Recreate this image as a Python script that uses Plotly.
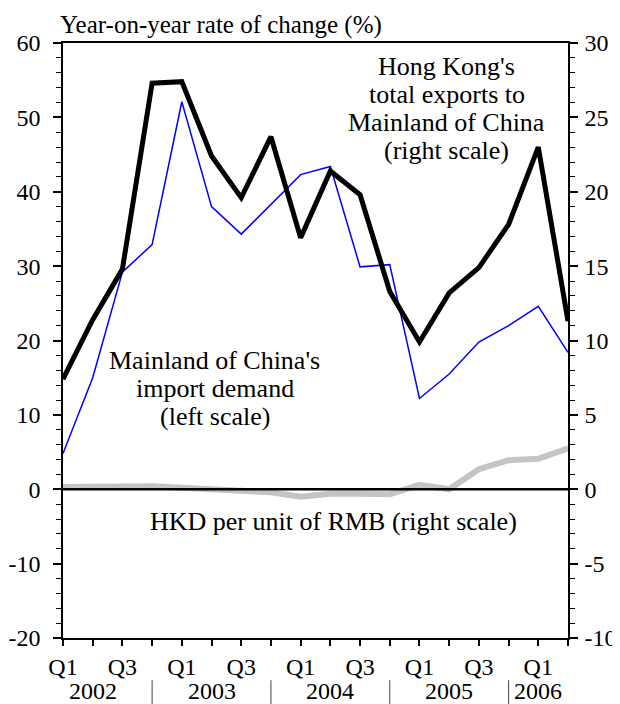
import plotly.graph_objects as go

# ---- data ----
quarters = ["2002Q1", "2002Q2", "2002Q3", "2002Q4",
            "2003Q1", "2003Q2", "2003Q3", "2003Q4",
            "2004Q1", "2004Q2", "2004Q3", "2004Q4",
            "2005Q1", "2005Q2", "2005Q3", "2005Q4",
            "2006Q1", "2006Q2"]
quarter_ticks = ["Q1", "", "Q3", "",
                 "Q1", "", "Q3", "",
                 "Q1", "", "Q3", "",
                 "Q1", "", "Q3", "",
                 "Q1", ""]
import_demand = [4.8, 15.0, 29.2, 32.9, 52.1, 38.0, 34.3, 38.3, 42.3, 43.4,
                 29.9, 30.2, 12.2, 15.5, 19.8, 22.0, 24.6, 18.4]          # left scale
hk_exports = [7.4, 11.4, 14.8, 27.3, 27.4, 22.4, 19.6, 23.7, 16.9, 21.4,
              19.8, 13.3, 9.9, 13.2, 14.9, 17.8, 23.0, 11.3]              # right scale
hkd_per_rmb = [0.15, 0.2, 0.2, 0.2, 0.1, 0.0, 0.0, -0.2, -0.5, -0.3,
               -0.3, -0.33, 0.3, 0.0, 1.35, 1.95, 2.05, 2.75]             # right scale
years = ["2002", "2003", "2004", "2005", "2006"]
year_label_quarter = ["2002Q2", "2003Q2", "2004Q2", "2005Q2", "2006Q1"]
year_separators = ["2002Q4", "2003Q4", "2004Q4", "2005Q4"]
left_ticks = [-20, -10, 0, 10, 20, 30, 40, 50, 60]
left_tick_labels = ["-20", "-10", "0", "10", "20", "30", "40", "50", "60"]
right_ticks = [-10, -5, 0, 5, 10, 15, 20, 25, 30]
right_tick_labels = ["-10", "-5", "0", "5", "10", "15", "20", "25", "30"]

FONT = "Liberation Serif"
TICK_SIZE = 24
ANN_SIZE = 26
xidx = list(range(len(quarters)))
pos = {q: i for i, q in enumerate(quarters)}

fig = go.Figure()
fig.add_trace(go.Scatter(x=xidx, y=hkd_per_rmb, yaxis="y2", mode="lines",
                         line=dict(color="#c4c4c4", width=6), hoverinfo="skip"))
fig.add_trace(go.Scatter(x=xidx, y=import_demand, yaxis="y", mode="lines",
                         line=dict(color="#0000ff", width=1.5), hoverinfo="skip"))
fig.add_trace(go.Scatter(x=xidx, y=hk_exports, yaxis="y2", mode="lines",
                         line=dict(color="#000000", width=5), hoverinfo="skip"))

# zero line
fig.add_shape(type="line", xref="paper", yref="y", x0=0, x1=1, y0=0, y1=0,
              line=dict(color="black", width=2.5), layer="above")

# year separators
for s in year_separators:
    fig.add_shape(type="line", xref="x", yref="paper", x0=pos[s], x1=pos[s],
                  y0=-0.071, y1=-0.115, line=dict(color="#444444", width=1))

def txt(x, y, t, size=ANN_SIZE, **kw):
    d = dict(x=x, xref="paper", y=y, yref="paper", text=t, showarrow=False,
             font=dict(family=FONT, size=size, color="black"))
    d.update(kw)
    return d

annotations = []
for y, q in zip(years, year_label_quarter):
    annotations.append(dict(x=pos[q], xref="x", y=0, yref="paper", text=y,
                            showarrow=False, yanchor="middle", yshift=-53,
                            font=dict(family=FONT, size=TICK_SIZE, color="black")))

annotations.append(txt(-0.010, 1.030, "Year-on-year rate of change (%)", size=25,
                       xanchor="left", yanchor="middle"))
hk_lines = ["Hong Kong's", "total exports to", "Mainland of China", "(right scale)"]
for t, yy in zip(hk_lines, [0.960, 0.913, 0.866, 0.820]):
    annotations.append(txt(0.760, yy, t, xanchor="center", yanchor="middle"))
mc_lines = ["Mainland of China's", "import demand", "(left scale)"]
for t, yy in zip(mc_lines, [0.467, 0.420, 0.373]):
    annotations.append(txt(0.300, yy, t, xanchor="center", yanchor="middle"))
annotations.append(txt(0.536, 0.195, "HKD per unit of RMB (right scale)",
                       xanchor="center", yanchor="middle"))

fig.update_layout(
    width=620, height=704,
    margin=dict(l=55, r=60, t=35, b=74, autoexpand=False),
    paper_bgcolor="white", plot_bgcolor="white",
    showlegend=False,
    font=dict(family=FONT, size=TICK_SIZE, color="black"),
    annotations=annotations,
    xaxis=dict(range=[0, len(quarters) - 1], tickvals=xidx, ticktext=quarter_ticks,
               ticks="outside", ticklen=6, tickwidth=1.5, tickcolor="black",
               showline=True, linecolor="black", linewidth=1.5, mirror=True,
               showgrid=False, zeroline=False, automargin=False,
               tickfont=dict(family=FONT, size=TICK_SIZE, color="black")),
    yaxis=dict(range=[-20, 60], tickvals=left_ticks, ticktext=left_tick_labels,
               ticks="outside", ticklen=8, tickwidth=1.5, tickcolor="black",
               ticklabelstandoff=8, automargin=False,
               minor=dict(dtick=2, tick0=0, ticks="outside", ticklen=5,
                          tickcolor="black", tickwidth=1),
               showline=True, linecolor="black", linewidth=1.5,
               showgrid=False, zeroline=False,
               tickfont=dict(family=FONT, size=TICK_SIZE, color="black")),
    yaxis2=dict(range=[-10, 30], tickvals=right_ticks, ticktext=right_tick_labels,
                overlaying="y", side="right",
                ticks="outside", ticklen=8, tickwidth=1.5, tickcolor="black",
                ticklabelstandoff=2, automargin=False,
                minor=dict(dtick=1, tick0=0, ticks="outside", ticklen=5,
                           tickcolor="black", tickwidth=1),
                showline=True, linecolor="black", linewidth=1.5,
                showgrid=False, zeroline=False,
                tickfont=dict(family=FONT, size=TICK_SIZE, color="black")),
)

fig.write_html("out.html")
